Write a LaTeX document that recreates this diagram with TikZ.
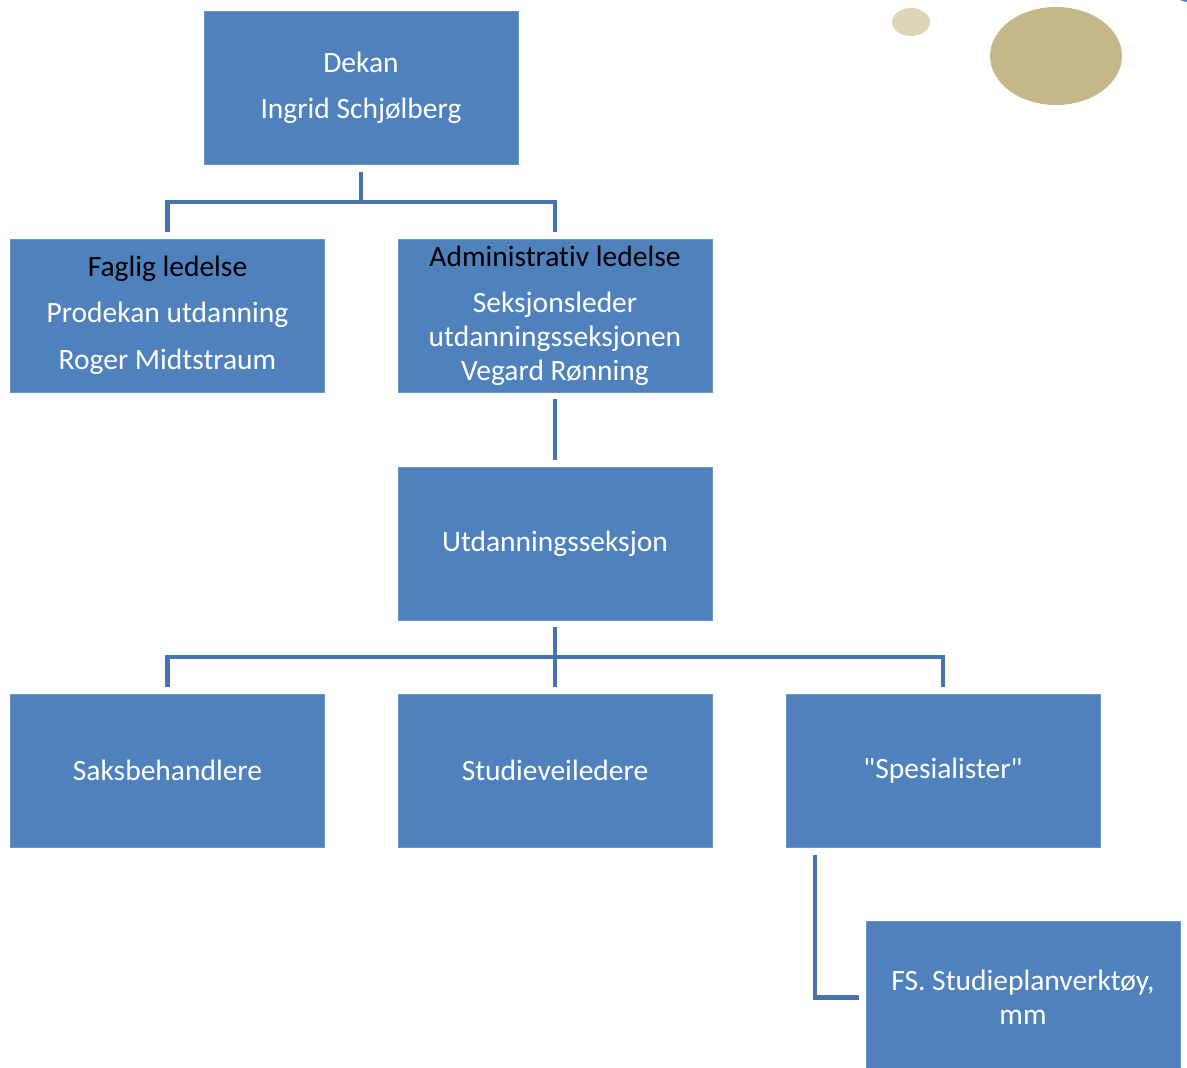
\documentclass[tikz,border=0pt]{standalone}
\usepackage{fontspec}
\defaultfontfeatures{}
\setmainfont{Carlito}[Ligatures={TeXOff,CommonOff}]
\definecolor{boxblue}{HTML}{4F81BD}
\definecolor{lineblue}{HTML}{4673AE}
\definecolor{goldA}{HTML}{C4B888}
\definecolor{goldB}{HTML}{DDD5B5}
\begin{document}
\begin{tikzpicture}[x=1pt,y=-1pt,
  orgbox/.style={fill=boxblue, draw=boxblue!85!white, line width=0.8pt, minimum width=314pt, minimum height=153pt, inner sep=0pt, text=white, align=center, font=\fontsize{29.5}{34}\selectfont},
  conn/.style={draw=lineblue, line width=4.5pt}]
\clip (0,0) rectangle (1187,1068);
\useasboundingbox (0,0) rectangle (1187,1068);
% decorations
\fill[goldB] (911,22) ellipse [x radius=19, y radius=14];
\fill[goldA] (1056,56) ellipse [x radius=66, y radius=49];
\fill[lineblue] (1225,-28) ellipse [x radius=80, y radius=34];
% boxes
\node[orgbox] (dekan) at (361,88) {Dekan\\[12pt]Ingrid Schjølberg};
\node[orgbox] (faglig) at (167.5,315.5) {\textcolor{black}{Faglig ledelse}\\[12pt]Prodekan utdanning\\[13pt]Roger Midtstraum};
\node[orgbox] (admin) at (555,315.5) {\textcolor{black}{Administrativ ledelse}\\[12pt]Seksjonsleder\\utdanningsseksjonen\\Vegard Rønning};
\node[orgbox] (utd) at (555,543.5) {Utdanningsseksjon};
\node[orgbox] (saks) at (167.5,770.5) {Saksbehandlere};
\node[orgbox] (studie) at (555,770.5) {Studieveiledere};
\node[orgbox] (spes) at (943,770.5) {"Spesialister"};
\node[orgbox] (fs) at (1023,997.5) {FS. Studieplanverktøy,\\mm};
% connectors
\coordinate (j1) at (361,202);
\draw[conn] ([yshift=-7pt]dekan.south) -- (j1);
\draw[conn, shorten >=7pt] (j1) -| (faglig.north);
\draw[conn, shorten >=7pt] (j1) -| (admin.north);
\draw[conn, shorten >=7pt] ([yshift=-7pt]admin.south) -- (utd.north);
\coordinate (j2) at (555,657);
\draw[conn] ([yshift=-7pt]utd.south) -- (j2);
\draw[conn, shorten >=7pt] (j2) -| (saks.north);
\draw[conn, shorten >=7pt] (j2) -- (studie.north);
\draw[conn, shorten >=7pt] (j2) -| (spes.north);
\coordinate (s1) at (815,855);
\draw[conn, shorten >=7pt] (s1) |- (fs.west);
\end{tikzpicture}
\end{document}
